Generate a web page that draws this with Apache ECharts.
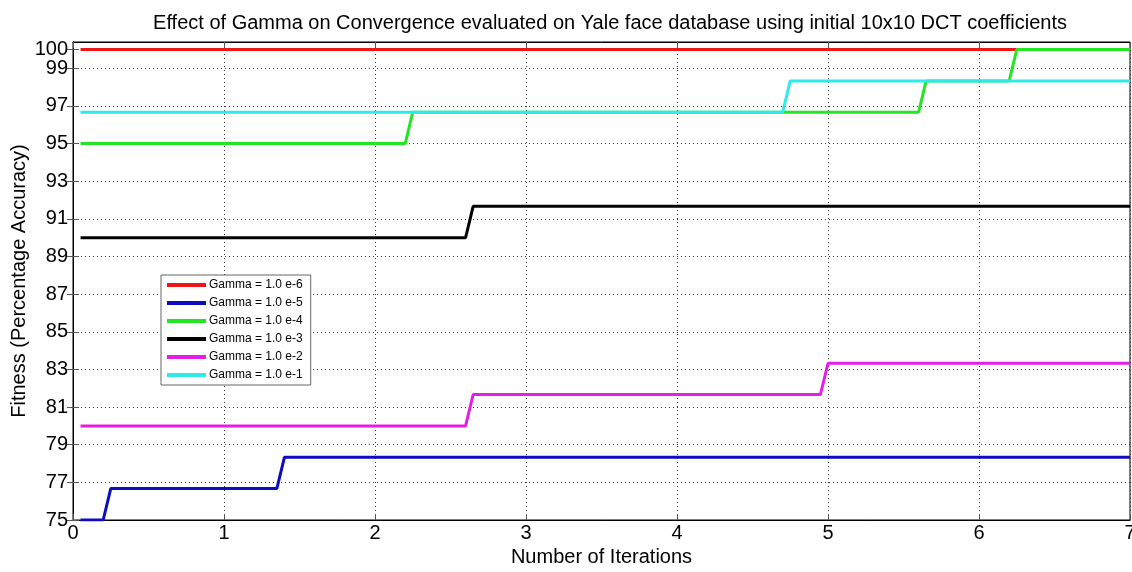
<!DOCTYPE html>
<html>
<head>
<meta charset="utf-8">
<script src="https://cdn.jsdelivr.net/npm/echarts@6/dist/echarts.min.js"></script>
<style>
  html, body { margin: 0; padding: 0; background: #fff; }
  #chart { width: 1132px; height: 572px; }
</style>
</head>
<body>
<div id="chart"></div>
<script>
// [iteration, fitness] points
const gammaE6 = [[0.05, 100], [7, 100]];
const gammaE5 = [[0.05, 75], [0.2, 75], [0.25, 76.67], [1.35, 76.67], [1.4, 78.33], [7, 78.33]];
const gammaE4 = [[0.05, 95], [2.2, 95], [2.25, 96.67], [5.6, 96.67], [5.65, 98.33], [6.2, 98.33], [6.25, 100], [7, 100]];
const gammaE3 = [[0.05, 90], [2.6, 90], [2.65, 91.67], [7, 91.67]];
const gammaE2 = [[0.05, 80], [2.6, 80], [2.65, 81.67], [4.95, 81.67], [5.0, 83.33], [7, 83.33]];
const gammaE1 = [[0.05, 96.67], [4.7, 96.67], [4.75, 98.33], [7, 98.33]];

const seriesNames = ['Gamma = 1.0 e-6', 'Gamma = 1.0 e-5', 'Gamma = 1.0 e-4', 'Gamma = 1.0 e-3', 'Gamma = 1.0 e-2', 'Gamma = 1.0 e-1'];
const seriesData = [gammaE6, gammaE5, gammaE4, gammaE3, gammaE2, gammaE1];
const colors = ['#f01414', '#0c0cc0', '#22e622', '#000000', '#e41ee4', '#30eaea'];
const yTicks = [75, 77, 79, 81, 83, 85, 87, 89, 91, 93, 95, 97, 99];
const yTopTick = [100];

const chart = echarts.init(document.getElementById('chart'));
const font = 'Arial, "Liberation Sans", sans-serif';
const dotted = { type: [1, 3], color: '#333', width: 1 };
const tickStyle = { inside: true, length: 6, lineStyle: { color: '#555' } };

chart.setOption({
  animation: false,
  textStyle: { fontFamily: font },
  title: {
    text: 'Effect of Gamma on Convergence evaluated on Yale face database using initial 10x10 DCT coefficients',
    left: 605,
    textAlign: 'center',
    top: 8,
    textStyle: { fontSize: 20, fontWeight: 'normal', color: '#000', fontFamily: font }
  },
  legend: {
    orient: 'vertical',
    left: 161,
    top: 275,
    padding: [3, 8, 3, 6],
    itemGap: 4,
    itemWidth: 39,
    itemHeight: 4,
    icon: 'rect',
    backgroundColor: '#fff',
    borderColor: '#666',
    borderWidth: 1,
    borderRadius: 0,
    textStyle: { fontSize: 12, color: '#000', fontFamily: font, padding: [0, 0, 0, -2], lineHeight: 14 },
    data: seriesNames
  },
  grid: {
    left: 73, right: 2, top: 42, bottom: 52,
    outerBoundsMode: 'none',
    containLabel: false,
    show: true, borderColor: '#000', borderWidth: 1, backgroundColor: '#fff'
  },
  xAxis: [{
    type: 'value',
    min: 0, max: 7, interval: 1,
    name: 'Number of Iterations',
    nameLocation: 'middle',
    nameGap: 24,
    nameTextStyle: { fontSize: 20, color: '#000', fontFamily: font },
    axisLine: { lineStyle: { color: '#000' } },
    axisTick: tickStyle,
    axisLabel: { fontSize: 20, color: '#000', margin: 3, fontFamily: font },
    splitLine: { show: true, lineStyle: dotted }
  }, {
    type: 'value',
    position: 'top',
    min: 0, max: 7, interval: 1,
    axisLine: { show: true, lineStyle: { color: '#000' } },
    axisTick: tickStyle,
    axisLabel: { show: false },
    splitLine: { show: false }
  }],
  yAxis: [{
    type: 'value',
    min: 75, max: 100.4, interval: 2,
    name: 'Fitness (Percentage Accuracy)',
    nameLocation: 'middle',
    nameGap: 44,
    nameTextStyle: { fontSize: 20, color: '#000', fontFamily: font },
    axisLine: { show: true, lineStyle: { color: '#000' } },
    axisTick: Object.assign({ customValues: yTicks.concat(yTopTick) }, tickStyle),
    axisLabel: { fontSize: 20, color: '#000', margin: 5, customValues: yTicks, fontFamily: font },
    splitLine: { show: true, lineStyle: dotted }
  }, {
    type: 'value',
    position: 'right',
    min: 75, max: 100.4, interval: 2,
    axisLine: { show: true, lineStyle: { color: '#000' } },
    axisTick: Object.assign({ customValues: yTicks.concat(yTopTick) }, tickStyle),
    axisLabel: { show: false },
    splitLine: { show: false }
  }, {
    // separate axis just for the "100" label so it is not dropped next to "99"
    type: 'value',
    position: 'left',
    min: 75, max: 100.4, interval: 2,
    axisLine: { show: false },
    axisTick: { show: false },
    axisLabel: { fontSize: 20, color: '#000', margin: 5, customValues: yTopTick, fontFamily: font },
    splitLine: { show: false }
  }],
  series: seriesNames.map((n, i) => ({
    name: n,
    type: 'line',
    data: seriesData[i],
    color: colors[i],
    symbol: 'none',
    lineStyle: { width: 3, color: colors[i] },
    itemStyle: { color: colors[i] }
  }))
});
</script>
</body>
</html>
